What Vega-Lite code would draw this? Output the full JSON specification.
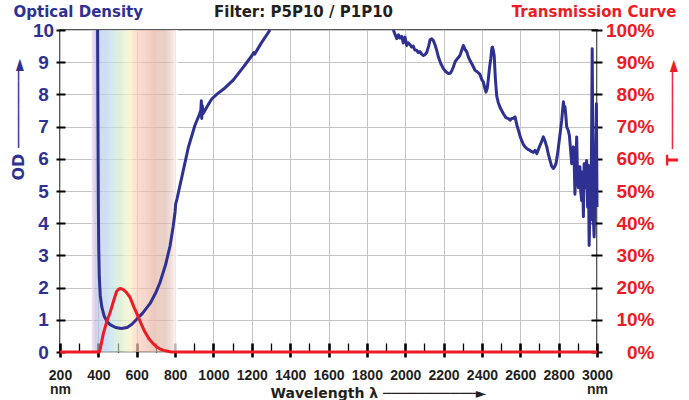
{
  "$schema": "https://vega.github.io/schema/vega-lite/v6.json",
  "width": 537,
  "height": 322,
  "autosize": {"type": "none"},
  "padding": {"left": 60, "top": 30, "right": 92, "bottom": 48},
  "background": "white",
  "config": {
    "view": {"stroke": "#222222", "strokeWidth": 1.5},
    "axis": {"labelFont": "Liberation Sans", "titleFont": "DejaVu Sans", "titleFontWeight": "bold"}
  },
  "title": {
    "text": "Filter: P5P10 / P1P10",
    "font": "DejaVu Sans", "fontSize": 15, "fontWeight": "bold", "color": "#231f20",
    "anchor": "middle", "frame": "group", "dx": -25, "baseline": "alphabetic", "offset": -28
  },
  "datasets": {
    "band": [
      {"a":365,"b":370},{"a":370,"b":375},{"a":375,"b":380},{"a":380,"b":385},{"a":385,"b":390},{"a":390,"b":395},{"a":395,"b":400},{"a":400,"b":405},{"a":405,"b":410},{"a":410,"b":415},
      {"a":415,"b":420},{"a":420,"b":425},{"a":425,"b":430},{"a":430,"b":435},{"a":435,"b":440},{"a":440,"b":445},{"a":445,"b":450},{"a":450,"b":455},{"a":455,"b":460},{"a":460,"b":465},
      {"a":465,"b":470},{"a":470,"b":475},{"a":475,"b":480},{"a":480,"b":485},{"a":485,"b":490},{"a":490,"b":495},{"a":495,"b":500},{"a":500,"b":505},{"a":505,"b":510},{"a":510,"b":515},
      {"a":515,"b":520},{"a":520,"b":525},{"a":525,"b":530},{"a":530,"b":535},{"a":535,"b":540},{"a":540,"b":545},{"a":545,"b":550},{"a":550,"b":555},{"a":555,"b":560},{"a":560,"b":565},
      {"a":565,"b":570},{"a":570,"b":575},{"a":575,"b":580},{"a":580,"b":585},{"a":585,"b":590},{"a":590,"b":595},{"a":595,"b":600},{"a":600,"b":605},{"a":605,"b":610},{"a":610,"b":615},
      {"a":615,"b":620},{"a":620,"b":625},{"a":625,"b":630},{"a":630,"b":635},{"a":635,"b":640},{"a":640,"b":645},{"a":645,"b":650},{"a":650,"b":655},{"a":655,"b":660},{"a":660,"b":665},
      {"a":665,"b":670},{"a":670,"b":675},{"a":675,"b":680},{"a":680,"b":685},{"a":685,"b":690},{"a":690,"b":695},{"a":695,"b":700},{"a":700,"b":705},{"a":705,"b":710},{"a":710,"b":715},
      {"a":715,"b":720},{"a":720,"b":725},{"a":725,"b":730},{"a":730,"b":735},{"a":735,"b":740},{"a":740,"b":745},{"a":745,"b":750},{"a":750,"b":755},{"a":755,"b":760},{"a":760,"b":765},
      {"a":765,"b":770},{"a":770,"b":775},{"a":775,"b":780},{"a":780,"b":785},{"a":785,"b":790},{"a":790,"b":795},{"a":795,"b":800},{"a":800,"b":805},{"a":805,"b":810},{"a":810,"b":815}
    ],
    "od": [
      {"wl":396,"od":10,"seg":1},{"wl":398,"od":7,"seg":1},{"wl":400,"od":4.5,"seg":1},{"wl":402,"od":3.2,"seg":1},{"wl":405,"od":2.3,"seg":1},{"wl":410,"od":1.75,"seg":1},{"wl":418,"od":1.4,"seg":1},{"wl":430,"od":1.12,"seg":1},{"wl":445,"od":0.95,"seg":1},{"wl":461,"od":0.85,"seg":1},
      {"wl":490,"od":0.76,"seg":1},{"wl":520,"od":0.73,"seg":1},{"wl":550,"od":0.76,"seg":1},{"wl":575,"od":0.86,"seg":1},{"wl":600,"od":1.02,"seg":1},{"wl":630,"od":1.2,"seg":1},{"wl":669,"od":1.5,"seg":1},{"wl":700,"od":1.85,"seg":1},{"wl":721,"od":2.15,"seg":1},{"wl":750,"od":2.7,"seg":1},
      {"wl":774,"od":3.3,"seg":1},{"wl":790,"od":3.9,"seg":1},{"wl":800,"od":4.35,"seg":1},{"wl":803,"od":4.6,"seg":1},{"wl":810,"od":4.75,"seg":1},{"wl":834,"od":5.4,"seg":1},{"wl":869,"od":6.35,"seg":1},{"wl":904,"od":7.05,"seg":1},{"wl":925,"od":7.35,"seg":1},{"wl":934,"od":7.5,"seg":1},
      {"wl":937,"od":7.8,"seg":1},{"wl":939,"od":7.25,"seg":1},{"wl":942,"od":7.65,"seg":1},{"wl":946,"od":7.4,"seg":1},{"wl":965,"od":7.6,"seg":1},{"wl":990,"od":7.85,"seg":1},{"wl":1017,"od":8.0,"seg":1},{"wl":1060,"od":8.2,"seg":1},{"wl":1104,"od":8.45,"seg":1},{"wl":1150,"od":8.8,"seg":1},
      {"wl":1200,"od":9.2,"seg":1},{"wl":1210,"od":9.3,"seg":1},{"wl":1215,"od":9.25,"seg":1},{"wl":1250,"od":9.6,"seg":1},{"wl":1295,"od":10,"seg":1},
      {"wl":1938,"od":10,"seg":2},{"wl":1956,"od":9.73,"seg":2},{"wl":1965,"od":9.85,"seg":2},{"wl":1973,"od":9.75,"seg":2},{"wl":1982,"od":9.8,"seg":2},{"wl":1990,"od":9.6,"seg":2},{"wl":1999,"od":9.78,"seg":2},{"wl":2008,"od":9.52,"seg":2},{"wl":2016,"od":9.6,"seg":2},{"wl":2025,"od":9.55,"seg":2},
      {"wl":2033,"od":9.47,"seg":2},{"wl":2042,"od":9.5,"seg":2},{"wl":2050,"od":9.38,"seg":2},{"wl":2060,"od":9.37,"seg":2},{"wl":2068,"od":9.3,"seg":2},{"wl":2077,"od":9.33,"seg":2},{"wl":2086,"od":9.25,"seg":2},{"wl":2095,"od":9.21,"seg":2},{"wl":2104,"od":9.24,"seg":2},{"wl":2112,"od":9.3,"seg":2},
      {"wl":2122,"od":9.5,"seg":2},{"wl":2130,"od":9.7,"seg":2},{"wl":2138,"od":9.73,"seg":2},{"wl":2146,"od":9.68,"seg":2},{"wl":2155,"od":9.55,"seg":2},{"wl":2165,"od":9.35,"seg":2},{"wl":2173,"od":9.16,"seg":2},{"wl":2186,"od":8.95,"seg":2},{"wl":2199,"od":8.8,"seg":2},{"wl":2212,"od":8.7,"seg":2},
      {"wl":2225,"od":8.65,"seg":2},{"wl":2235,"od":8.66,"seg":2},{"wl":2242,"od":8.72,"seg":2},{"wl":2251,"od":8.85,"seg":2},{"wl":2260,"od":9.01,"seg":2},{"wl":2270,"od":9.1,"seg":2},{"wl":2278,"od":9.15,"seg":2},{"wl":2286,"od":9.22,"seg":2},{"wl":2295,"od":9.38,"seg":2},{"wl":2303,"od":9.52,"seg":2},
      {"wl":2312,"od":9.4,"seg":2},{"wl":2321,"od":9.32,"seg":2},{"wl":2330,"od":9.15,"seg":2},{"wl":2338,"od":9.05,"seg":2},{"wl":2350,"od":8.92,"seg":2},{"wl":2364,"od":8.75,"seg":2},{"wl":2376,"od":8.7,"seg":2},{"wl":2390,"od":8.62,"seg":2},{"wl":2400,"od":8.45,"seg":2},{"wl":2407,"od":8.39,"seg":2},
      {"wl":2415,"od":8.2,"seg":2},{"wl":2421,"od":8.07,"seg":2},{"wl":2428,"od":8.2,"seg":2},{"wl":2433,"od":8.45,"seg":2},{"wl":2440,"od":8.85,"seg":2},{"wl":2446,"od":9.1,"seg":2},{"wl":2452,"od":9.45,"seg":2},{"wl":2455,"od":9.47,"seg":2},{"wl":2460,"od":9.35,"seg":2},{"wl":2464,"od":9.2,"seg":2},
      {"wl":2470,"od":8.5,"seg":2},{"wl":2477,"od":7.95,"seg":2},{"wl":2485,"od":7.75,"seg":2},{"wl":2494,"od":7.6,"seg":2},{"wl":2503,"od":7.5,"seg":2},{"wl":2512,"od":7.4,"seg":2},{"wl":2525,"od":7.28,"seg":2},{"wl":2538,"od":7.25,"seg":2},{"wl":2547,"od":7.2,"seg":2},{"wl":2555,"od":7.25,"seg":2},
      {"wl":2565,"od":7.26,"seg":2},{"wl":2573,"od":7.3,"seg":2},{"wl":2582,"od":7.05,"seg":2},{"wl":2590,"od":6.89,"seg":2},{"wl":2600,"od":6.68,"seg":2},{"wl":2607,"od":6.57,"seg":2},{"wl":2616,"od":6.45,"seg":2},{"wl":2625,"od":6.37,"seg":2},{"wl":2638,"od":6.3,"seg":2},{"wl":2651,"od":6.26,"seg":2},
      {"wl":2660,"od":6.22,"seg":2},{"wl":2668,"od":6.2,"seg":2},{"wl":2677,"od":6.26,"seg":2},{"wl":2686,"od":6.16,"seg":2},{"wl":2695,"od":6.3,"seg":2},{"wl":2703,"od":6.42,"seg":2},{"wl":2712,"od":6.55,"seg":2},{"wl":2720,"od":6.68,"seg":2},{"wl":2729,"od":6.55,"seg":2},{"wl":2738,"od":6.37,"seg":2},
      {"wl":2746,"od":6.15,"seg":2},{"wl":2755,"od":5.95,"seg":2},{"wl":2763,"od":5.78,"seg":2},{"wl":2772,"od":5.7,"seg":2},{"wl":2779,"od":5.75,"seg":2},{"wl":2786,"od":5.85,"seg":2},{"wl":2793,"od":6.1,"seg":2},{"wl":2799,"od":6.37,"seg":2},{"wl":2808,"od":6.8,"seg":2},{"wl":2816,"od":7.2,"seg":2},
      {"wl":2822,"od":7.6,"seg":2},{"wl":2825,"od":7.77,"seg":2},{"wl":2829,"od":7.55,"seg":2},{"wl":2833,"od":7.62,"seg":2},{"wl":2838,"od":7.3,"seg":2},{"wl":2842,"od":6.99,"seg":2},{"wl":2849,"od":6.9,"seg":2},{"wl":2856,"od":6.73,"seg":2},{"wl":2862,"od":6.3,"seg":2},{"wl":2868,"od":5.85,"seg":2},
      {"wl":2872,"od":6.2,"seg":2},{"wl":2877,"od":6.37,"seg":2},{"wl":2881,"od":5.9,"seg":2},{"wl":2885,"od":4.9,"seg":2},{"wl":2889,"od":5.6,"seg":2},{"wl":2894,"od":6.68,"seg":2},{"wl":2898,"od":5.6,"seg":2},{"wl":2903,"od":5.1,"seg":2},{"wl":2907,"od":5.6,"seg":2},{"wl":2911,"od":5.75,"seg":2},
      {"wl":2915,"od":5.0,"seg":2},{"wl":2920,"od":4.7,"seg":2},{"wl":2925,"od":5.6,"seg":2},{"wl":2929,"od":4.2,"seg":2},{"wl":2933,"od":5.85,"seg":2},{"wl":2937,"od":5.1,"seg":2},{"wl":2942,"od":5.33,"seg":2},{"wl":2946,"od":5.95,"seg":2},{"wl":2951,"od":4.5,"seg":2},{"wl":2955,"od":5.8,"seg":2},
      {"wl":2959,"od":3.31,"seg":2},{"wl":2963,"od":4.4,"seg":2},{"wl":2966,"od":4.09,"seg":2},{"wl":2971,"od":6.0,"seg":2},{"wl":2975,"od":9.42,"seg":2},{"wl":2978,"od":6.5,"seg":2},{"wl":2980,"od":4.3,"seg":2},{"wl":2985,"od":3.57,"seg":2},{"wl":2990,"od":5.0,"seg":2},{"wl":2994,"od":6.5,"seg":2},
      {"wl":2997,"od":7.71,"seg":2},{"wl":3000,"od":4.5,"seg":2}
    ],
    "t": [
      {"wl":200,"t":0},{"wl":405,"t":0},{"wl":410,"t":1},{"wl":426,"t":5.7},{"wl":443,"t":9.3},{"wl":461,"t":12.2},{"wl":480,"t":16},{"wl":495,"t":18.8},{"wl":507,"t":19.6},{"wl":518,"t":19.7},
      {"wl":530,"t":19.4},{"wl":545,"t":18.6},{"wl":565,"t":17.0},{"wl":585,"t":14.0},{"wl":608,"t":10.9},{"wl":625,"t":8.5},{"wl":643,"t":6.2},{"wl":665,"t":4.0},{"wl":686,"t":2.6},{"wl":705,"t":1.5},
      {"wl":721,"t":1.0},{"wl":740,"t":0.5},{"wl":756,"t":0.3},{"wl":780,"t":0},{"wl":3000,"t":0}
    ]
  },
  "resolve": {"scale": {"y": "independent"}, "axis": {"x": "independent", "y": "independent"}},
  "layer": [
    {
      "data": {"name": "band"},
      "mark": {"type": "rect", "opacity": 0.8},
      "encoding": {
        "x": {"field": "a", "type": "quantitative", "scale": {"domain": [200, 3000], "nice": false, "zero": false},
          "axis": {"orient": "top", "domain": false, "ticks": false, "labels": false, "grid": false,
            "title": "Optical Density", "titleColor": "#2e3192", "titleFontSize": 15, "titleX": -47, "titleY": -14,
            "titleAlign": "left", "titleAnchor": "start", "titleBaseline": "alphabetic"}},
        "x2": {"field": "b"},
        "color": {"field": "a", "type": "quantitative", "legend": null,
          "scale": {"type": "linear",
            "domain": [365, 375, 385, 408, 460, 487, 513, 539, 565, 586, 607, 628, 695, 747, 784, 805, 815],
            "range": ["#ecddec", "#d3bee0", "#b4b8dd", "#bcc8e7", "#c4ddf1", "#c9e5d3", "#d3e7c4", "#eaf1c9", "#f9f4cc", "#fdd8bf", "#fbccb8", "#f4c3b0", "#e4baab", "#dbb5a9", "#ebd8d3", "#ffffff", "#ffffff"]}}
      }
    },
    {
      "data": {"name": "od"},
      "mark": {"type": "line", "color": "#2e3192", "strokeWidth": 3, "strokeJoin": "round"},
      "encoding": {
        "x": {"field": "wl", "type": "quantitative", "scale": {"domain": [200, 3000], "nice": false, "zero": false},
          "axis": {"orient": "bottom", "offset": -9, "domain": false,
            "values": [200,300,400,500,600,700,800,900,1000,1100,1200,1300,1400,1500,1600,1700,1800,1900,2000,2100,2200,2300,2400,2500,2600,2700,2800,2900,3000],
            "format": "d",
            "grid": true, "gridColor": "#c4c4c4", "gridWidth": 1,
            "gridOpacity": {"condition": {"test": "datum.value % 200 != 0", "value": 0}, "value": 1},
            "tickColor": "#000000",
            "tickSize": {"condition": {"test": "datum.value % 200 != 0", "value": 9}, "value": 14},
            "tickWidth": {"condition": {"test": "datum.value % 200 != 0", "value": 1.3}, "value": 2.6},
            "labelExpr": "datum.value % 200 != 0 ? '' : ((datum.value == 200 || datum.value == 3000) ? [datum.label, 'nm'] : datum.label)",
            "labelFontSize": 14, "labelFontWeight": "bold", "labelColor": "#231f20", "labelPadding": 11,
            "labelFlush": false, "labelOverlap": false, "labelLineHeight": 14,
            "title": "Wavelength  λ  ───────────►", "titleColor": "#231f20", "titleFontSize": 14,
            "titleX": 210, "titleY": 54, "titleAlign": "left", "titleAnchor": "start", "titleBaseline": "alphabetic"}},
        "y": {"field": "od", "type": "quantitative", "scale": {"domain": [0, 10], "nice": false, "zero": false},
          "axis": {"orient": "left", "offset": -5, "domain": false, "values": [0,1,2,3,4,5,6,7,8,9,10],
            "grid": true, "gridColor": "#c4c4c4", "gridWidth": 1,
            "tickColor": "#000000", "tickSize": 9, "tickWidth": 2,
            "labelAlign": "center", "labelPadding": 13, "labelFontSize": 19, "labelFontWeight": "bold", "labelColor": "#2e3192",
            "title": "OD ────────►", "titleColor": "#2e3192", "titleFontSize": 16, "titleAngle": -90,
            "titleX": -47, "titleY": 150, "titleAlign": "left", "titleAnchor": "start", "titleBaseline": "middle"}},
        "detail": {"field": "seg", "type": "nominal"}
      }
    },
    {
      "data": {"name": "t"},
      "mark": {"type": "line", "color": "#ed1c24", "strokeWidth": 3, "strokeJoin": "round", "clip": false},
      "encoding": {
        "x": {"field": "wl", "type": "quantitative", "scale": {"domain": [200, 3000], "nice": false, "zero": false},
          "axis": {"orient": "top", "domain": false, "ticks": false, "labels": false, "grid": false,
            "title": "Transmission Curve", "titleColor": "#ed1c24", "titleFontSize": 15, "titleX": 616, "titleY": -14,
            "titleAlign": "right", "titleAnchor": "end", "titleBaseline": "alphabetic"}},
        "y": {"field": "t", "type": "quantitative", "scale": {"domain": [0, 100], "nice": false, "zero": false},
          "axis": {"orient": "right", "offset": -6, "domain": false, "values": [0,10,20,30,40,50,60,70,80,90,100],
            "grid": false, "tickColor": "#000000", "tickSize": 11, "tickWidth": 2,
            "labelExpr": "datum.value + '%'",
            "labelAlign": "right", "labelPadding": 52, "labelFontSize": 19, "labelFontWeight": "bold", "labelColor": "#ed1c24",
            "title": "T ────────►", "titleColor": "#ed1c24", "titleFontSize": 16, "titleAngle": -90,
            "titleX": 81, "titleY": 135, "titleAlign": "left", "titleAnchor": "start", "titleBaseline": "middle"}}
      }
    }
  ]
}
